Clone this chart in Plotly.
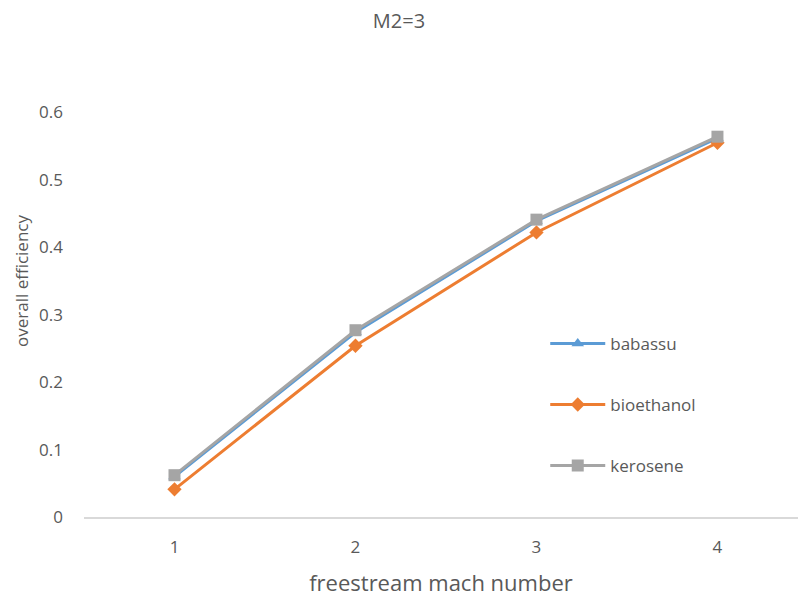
import plotly.graph_objects as go

mach = [1, 2, 3, 4]
babassu = [0.060, 0.274, 0.439, 0.562]
bioethanol = [0.041, 0.254, 0.422, 0.555]
kerosene = [0.062, 0.277, 0.441, 0.564]
y_ticks = [0, 0.1, 0.2, 0.3, 0.4, 0.5, 0.6]
y_labels = ["0", "0.1", "0.2", "0.3", "0.4", "0.5", "0.6"]

FONT = "Open Sans, Liberation Sans, sans-serif"
TXT = "#595959"

fig = go.Figure()
fig.add_trace(go.Scatter(x=mach, y=babassu, name="babassu", mode="lines+markers",
                         legendgroup="a",
                         line=dict(color="#5b9bd5", width=3),
                         marker=dict(symbol="triangle-up", size=11, color="#5b9bd5")))
fig.add_trace(go.Scatter(x=mach, y=bioethanol, name="bioethanol", mode="lines+markers",
                         legendgroup="b",
                         line=dict(color="#ed7d31", width=3),
                         marker=dict(symbol="diamond", size=11, color="#ed7d31")))
fig.add_trace(go.Scatter(x=mach, y=kerosene, name="kerosene", mode="lines+markers",
                         legendgroup="c",
                         line=dict(color="#a5a5a5", width=3),
                         marker=dict(symbol="square", size=12, color="#a5a5a5")))

fig.update_layout(
    width=798, height=612,
    margin=dict(l=84, r=0, t=44.5, b=95),
    paper_bgcolor="white", plot_bgcolor="white",
    font=dict(family=FONT, color=TXT, size=17),
    title=dict(text="M2=3", x=0.5, xanchor="center", y=0.965, yanchor="middle",
               font=dict(size=20, color=TXT, family=FONT)),
    showlegend=True,
    legend=dict(x=0.646, y=0.405, xanchor="left", yanchor="top",
                bgcolor="rgba(0,0,0,0)", tracegroupgap=36, itemwidth=55,
                font=dict(size=17, color=TXT, family=FONT)),
    xaxis=dict(range=[0.5, 4.445], tickvals=mach, ticktext=[str(m) for m in mach],
               showgrid=False, zeroline=False, showline=True, linecolor="#d9d9d9",
               linewidth=1.5, ticks="", ticklabelstandoff=14,
               tickfont=dict(size=17, color=TXT),
               title=dict(text="freestream mach number", standoff=18,
                          font=dict(size=22, color=TXT))),
    yaxis=dict(range=[0, 0.7], tickvals=y_ticks, ticktext=y_labels,
               showgrid=False, zeroline=False, showline=False, ticks="",
               ticklabelstandoff=20,
               tickfont=dict(size=17, color=TXT),
               title=dict(text="overall efficiency", standoff=6,
                          font=dict(size=17, color=TXT))),
)

fig.write_html("out.html")
